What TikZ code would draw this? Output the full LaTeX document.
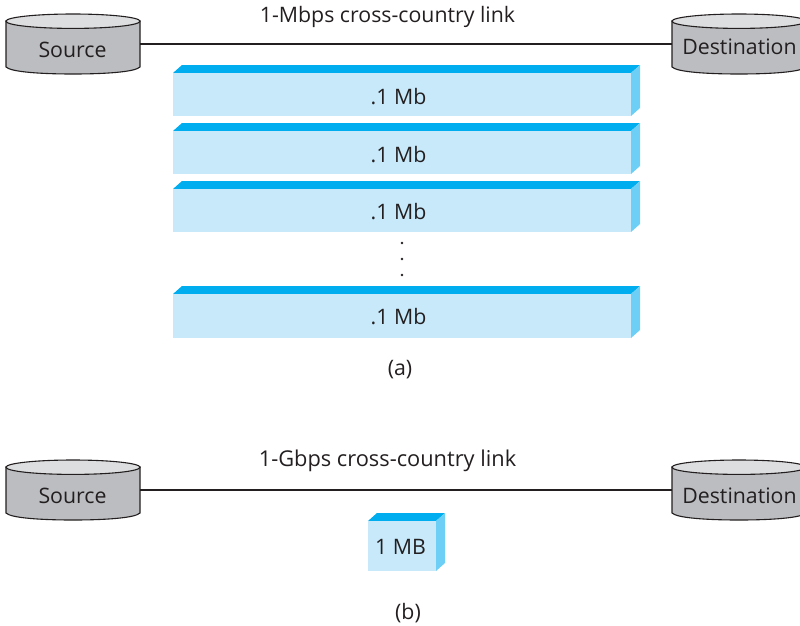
\documentclass[tikz,border=0pt]{standalone}
\usepackage{fontspec}
\setmainfont{Open Sans}
\definecolor{cylbody}{HTML}{BBBDC0}
\definecolor{cyltop}{HTML}{DCDEDF}
\definecolor{blockfront}{HTML}{C7E9FA}
\definecolor{blocktop}{HTML}{00AEEF}
\definecolor{blockside}{HTML}{6DCFF6}
\definecolor{ink}{HTML}{231F20}
\newcommand{\cyl}[3]{% name, left x, top y
  \node[cylbox] (#1) at (#2+67,#3+30) {};
  \path[fill=cylbody,draw=ink,line width=1.1pt] (#2,#3+7) -- (#2,#3+53)
    .. controls (#2+5,#3+58) and (#2+35,#3+60) .. (#2+67,#3+60)
    .. controls (#2+99,#3+60) and (#2+129,#3+58) .. (#2+134,#3+53) -- (#2+134,#3+7) -- cycle;
  \path[fill=cyltop,draw=ink,line width=1.1pt] (#2+67,#3+7.2) ellipse [x radius=67,y radius=7.2];
}
\newcommand{\blockshape}[5]{% name, x, front top y, width, height
  \fill[blocktop] (#2,#3) -- ++(9,-8) -- ++(#4,0) -- ++(-9,8) -- cycle;
  \fill[blockside] (#2+#4,#3) -- ++(9,-8) -- ++(0,#5) -- ++(-9,8) -- cycle;
  \node[blockbox,minimum width=#4,minimum height=#5] (#1) at (#2+#4/2,#3+#5/2) {};
}
\tikzset{
  x=1pt,y=-1pt,
  cylbox/.style={minimum width=134pt,minimum height=60pt,inner sep=0pt,outer sep=0pt},
  blockbox/.style={fill=blockfront,inner sep=0pt,outer sep=0pt},
  label/.style={font=\fontsize{21.3}{24}\selectfont,text=ink,inner sep=0pt,anchor=base},
  link/.style={draw=ink,line width=1.1pt},
  gap/.style={fill=ink,circle,inner sep=0pt,minimum size=2.8pt}
}
\begin{document}
\begin{tikzpicture}
\useasboundingbox (0,0) rectangle (800,625);
\cyl{srca}{6}{14}
\cyl{dsta}{672}{14}
\draw[link] (srca.east) -- (dsta.west);
\node[label] (srctexta) at (72.5,57) {Source};
\node[label] (dsttexta) at (739.5,54.5) {Destination};
\node[label] (linka) at (387.5,22) {1-Mbps cross-country link};
\blockshape{b1}{173}{73}{458}{43}
\blockshape{b2}{173}{131}{458}{43}
\blockshape{b3}{173}{189}{458}{43}
\blockshape{b4}{173}{294}{458}{44}
\node[label] (t1) at (398.5,104) {.1 Mb};
\node[label] (t2) at (398.5,162) {.1 Mb};
\node[label] (t3) at (398.5,219) {.1 Mb};
\node[label] (t4) at (398.5,324) {.1 Mb};
\node[gap] (d1) at (402,243) {};
\node[gap] (d2) at (402,259) {};
\node[gap] (d3) at (402,275) {};
\node[label] (capa) at (400,375) {(a)};
\cyl{srcb}{6}{460}
\cyl{dstb}{672}{460}
\draw[link] (srcb.east) -- (dstb.west);
\node[label] (srctextb) at (72.5,503) {Source};
\node[label] (dsttextb) at (739.5,503) {Destination};
\node[label] (linkb) at (387.5,466) {\fontsize{21.8}{24}\selectfont 1-Gbps cross-country link};
\blockshape{b5}{368}{521}{68}{50}
\node[label] (t5) at (400.5,554) {1 MB};
\node[label] (capb) at (408,619) {(b)};
\end{tikzpicture}
\end{document}
